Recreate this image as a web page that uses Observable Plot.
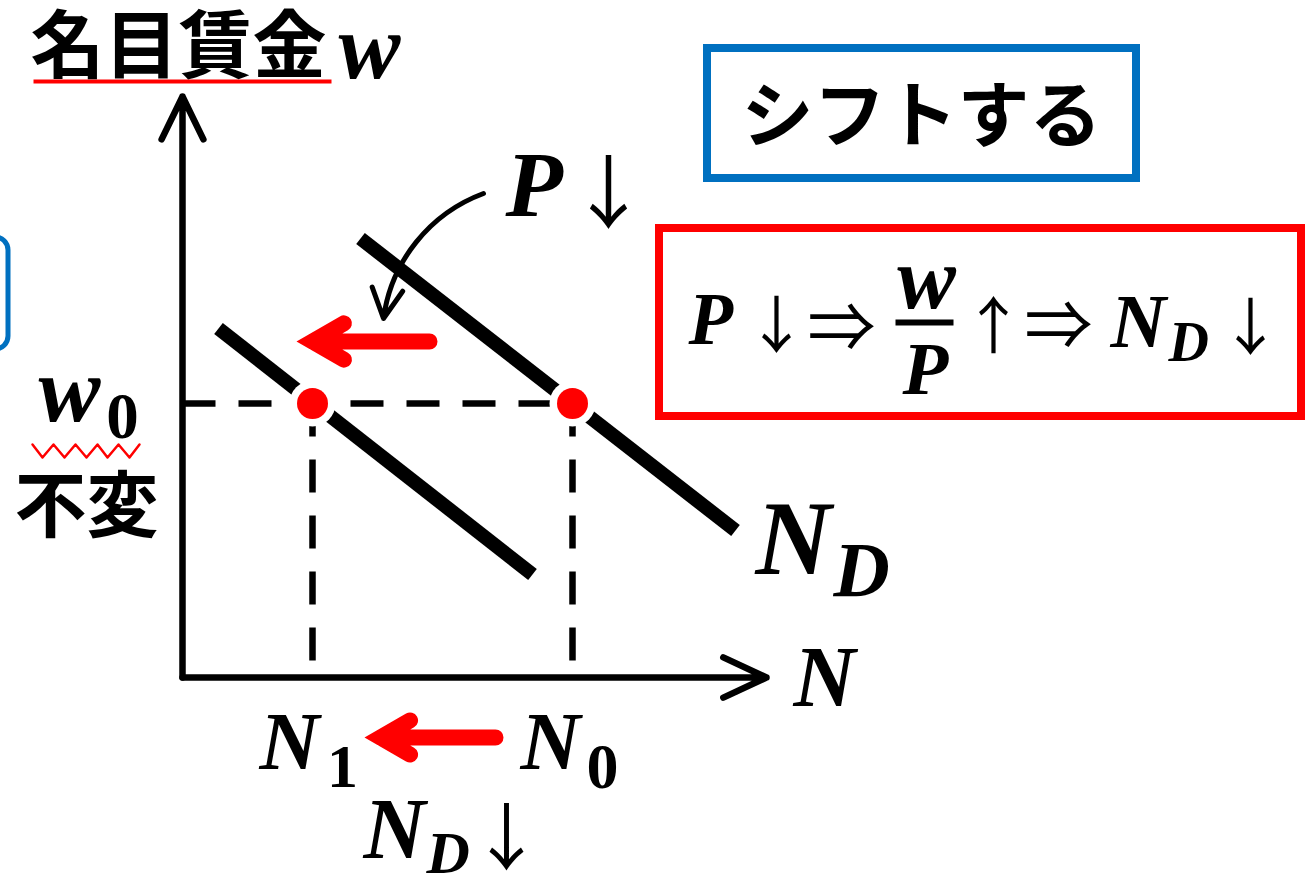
<!DOCTYPE html>
<html><head><meta charset="utf-8">
<script src="https://cdn.jsdelivr.net/npm/d3@7"></script>
<script src="https://cdn.jsdelivr.net/npm/@observablehq/plot@0.6"></script>
<style>html,body{margin:0;padding:0;background:#fff;overflow:hidden}</style>
</head><body><div id="chart"></div>
<script>
// Diagram units: origin at the axes' origin, N to the right, w upward
const N0 = 390, N1 = 130, w0 = 274;
const axisEnd = {N: 584, w: 581};
const demandBefore = [{N: 178, w: 439}, {N: 553, w: 147}];
const demandAfter = [{N: 36, w: 349}, {N: 350, w: 103}];
const equilibria = [{N: N1, w: w0}, {N: N0, w: w0}];
const zigzagN = [-150, -140, -129, -118, -107, -96, -85, -75, -64, -53, -43];
const zigzagW = [233, 220, 233, 220, 233, 220, 233, 220, 233, 220, 233];
const titleText = ["名目賃金", "w"];
const shiftText = "シフトする";
const constText = "不変";
const formulaTokens = ["P", "↓", "⇒", "w", "P", "↑", "⇒", "N", "D", "↓"];

const MATH = "'Liberation Serif', 'DejaVu Serif', serif";
const CJK = "'Noto Sans CJK JP', sans-serif";
const ARW = "'Noto Sans CJK JP', 'DejaVu Sans', sans-serif";

function label(t, N, w, o = {}) {
  return Plot.text([t], {
    x: [N], y: [w], text: d => d,
    lineAnchor: "bottom", textAnchor: o.anchor || "start",
    fontFamily: o.family || MATH, fontSize: o.size || 80,
    fontWeight: o.weight || "bold", fontStyle: o.style || "normal",
    fill: o.fill || "black"
  });
}
const mi = (t, N, w, size, anchor) => label(t, N, w, {size, anchor, style: "italic"});
const dg = (t, N, w, size) => label(t, N, w, {size, anchor: "middle"});
const ar = (t, N, w, size) => label(t, N, w, {size, anchor: "middle", family: ARW, weight: "normal"});

const chart = Plot.plot({
  width: 1309, height: 875, margin: 0,
  x: {domain: [-182, 1127], axis: null},
  y: {domain: [-198, 677], axis: null},
  style: {background: "white"},
  marks: [
    // left partially visible blue rounded box
    Plot.rect([0], {x1: -240, x2: -174, y1: 328, y2: 440, rx: 13, fill: "none", stroke: "#0070C0", strokeWidth: 5}),
    // axes
    Plot.arrow([0], {x1: 0, y1: 0, x2: 0, y2: axisEnd.w, strokeWidth: 6.5, headLength: 11, headAngle: 52, stroke: "black"}),
    Plot.arrow([0], {x1: 0, y1: 0, x2: axisEnd.N, y2: 0, strokeWidth: 6.5, headLength: 11, headAngle: 50, stroke: "black"}),
    // dashed guides
    Plot.link([0], {x1: 0, y1: w0, x2: N0, y2: w0, stroke: "black", strokeWidth: 6.5, strokeDasharray: "33,23"}),
    Plot.link([N1, N0], {x1: d => d, y1: w0, x2: d => d, y2: 17, stroke: "black", strokeWidth: 6.5, strokeDasharray: "33,23"}),
    // demand curves
    Plot.line(demandBefore, {x: "N", y: "w", stroke: "black", strokeWidth: 14, strokeLinecap: "butt"}),
    Plot.line(demandAfter, {x: "N", y: "w", stroke: "black", strokeWidth: 14, strokeLinecap: "butt"}),
    // equilibrium points with white halo
    Plot.dot(equilibria, {x: "N", y: "w", r: 23, fill: "white"}),
    Plot.dot(equilibria, {x: "N", y: "w", r: 15.5, fill: "#FF0000"}),
    // red shift arrows
    Plot.arrow([0], {x1: 247, y1: 336, x2: N1, y2: 336, stroke: "#FF0000", strokeWidth: 16, headLength: 3.4, headAngle: 60, strokeLinecap: "round", strokeLinejoin: "miter", strokeMiterlimit: 10}),
    Plot.arrow([0], {x1: 313, y1: -60, x2: 198, y2: -60, stroke: "#FF0000", strokeWidth: 16, headLength: 3.2, headAngle: 60, strokeLinecap: "round", strokeLinejoin: "miter", strokeMiterlimit: 10}),
    // curved P arrow
    Plot.arrow([0], {x1: 301, y1: 484, x2: 201, y2: 359, bend: -31, stroke: "black", strokeWidth: 5, headLength: 10, headAngle: 55}),
    // red underline & zigzag
    Plot.link([0], {x1: -149, x2: 149, y1: 596, y2: 596, stroke: "#FF0000", strokeWidth: 4}),
    Plot.line(zigzagN.map((n, i) => ({N: n, w: zigzagW[i]})), {x: "N", y: "w", stroke: "#FF0000", strokeWidth: 2.5}),
    // boxes
    Plot.rect([0], {x1: 525, x2: 954, y1: 499, y2: 629, fill: "none", stroke: "#0070C0", strokeWidth: 8}),
    Plot.rect([0], {x1: 477, x2: 1119, y1: 261, y2: 449, fill: "none", stroke: "#FF0000", strokeWidth: 8}),
    // title
    label(titleText[0], -152, 606, {family: CJK, size: 74}),
    mi(titleText[1], 156, 600, 93),
    label(shiftText, 739, 537, {family: CJK, size: 72, anchor: "middle"}),
    // P down
    mi("P", 323, 462, 94),
    ar("↓", 426, 456, 80),
    // formula
    mi(formulaTokens[0], 506, 334, 73),
    ar(formulaTokens[1], 594, 330, 62),
    ar(formulaTokens[2], 659, 326, 68),
    mi(formulaTokens[3], 744, 370, 88, "middle"),
    Plot.link([0], {x1: 713, x2: 771, y1: 355, y2: 355, stroke: "black", strokeWidth: 6}),
    mi(formulaTokens[4], 743, 284, 75, "middle"),
    ar(formulaTokens[5], 811, 329, 62),
    ar(formulaTokens[6], 876, 328, 68),
    mi(formulaTokens[7], 928, 331, 77),
    mi(formulaTokens[8], 986, 317, 56),
    ar(formulaTokens[9], 1068, 328, 62),
    // w0 unchanged
    mi("w", -144, 257, 93),
    dg("0", -60, 240, 65),
    label(constText, -168, 147, {family: CJK, size: 72}),
    // demand label
    mi("N", 573, 104, 105),
    mi("D", 651, 82, 78),
    // axis label N
    mi("N", 611, -28, 86),
    // N1 <- N0
    mi("N", 77, -91, 83),
    dg("1", 160, -109, 62),
    mi("N", 338, -91, 83),
    dg("0", 420, -110, 64),
    // N_D down
    mi("N", 181, -180, 86),
    mi("D", 244, -195, 60),
    ar("↓", 324, -186, 73)
  ]
});
document.getElementById("chart").appendChild(chart);
</script>
</body></html>
